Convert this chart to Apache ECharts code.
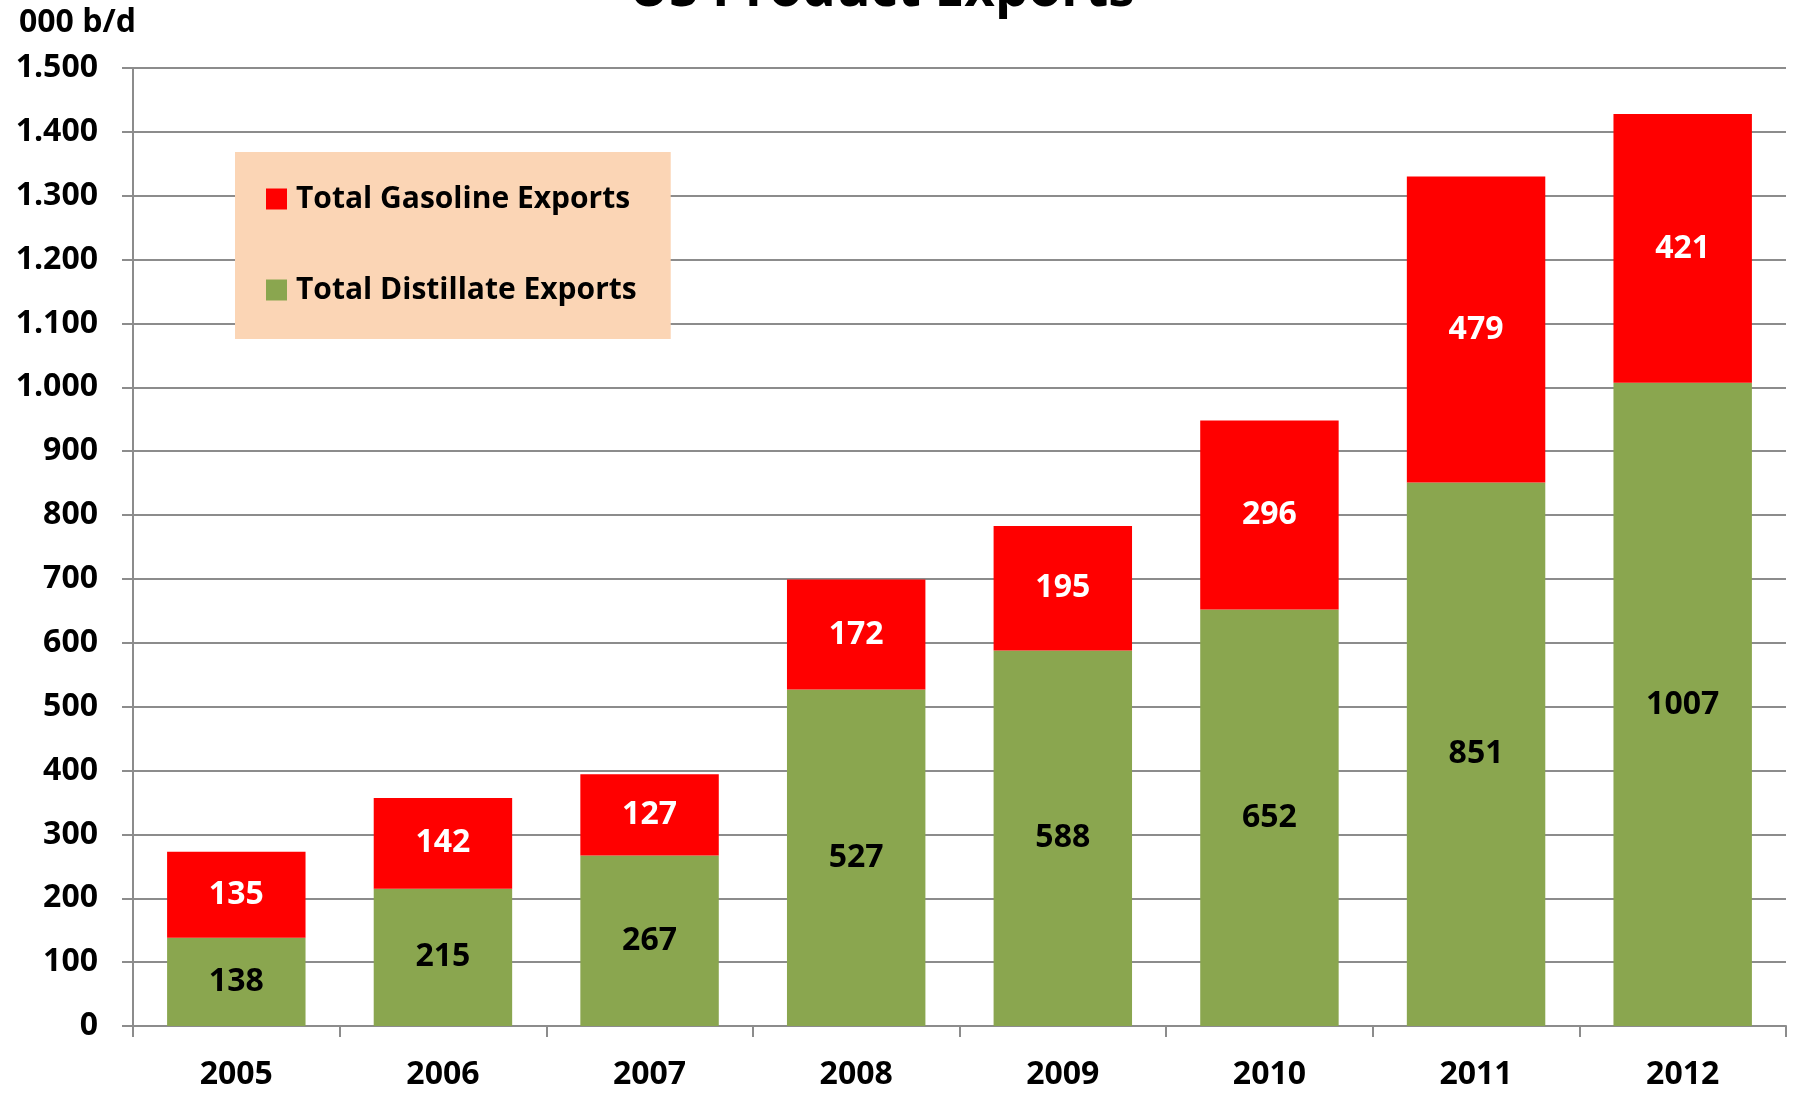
<!DOCTYPE html>
<html>
<head>
<meta charset="utf-8">
<script src="https://cdn.jsdelivr.net/npm/echarts@6/dist/echarts.min.js"></script>
<style>
  html, body { margin: 0; padding: 0; background: #fff; }
  #main { width: 1797px; height: 1095px; }
</style>
</head>
<body>
<div id="main"></div>
<script>
var years = ['2005', '2006', '2007', '2008', '2009', '2010', '2011', '2012'];
var distillate = [138, 215, 267, 527, 588, 652, 851, 1007];
var gasoline = [135, 142, 127, 172, 195, 296, 479, 421];

var FONT = '"Open Sans", "Noto Sans", sans-serif';

var chart = echarts.init(document.getElementById('main'));

var option = {
  backgroundColor: '#ffffff',
  animation: false,
  textStyle: { fontFamily: FONT },
  title: [{
    text: 'US Product Exports',
    left: 624,
    top: -41,
    textStyle: { fontSize: 53, fontWeight: 'bold', color: '#000', fontFamily: FONT }
  }, {
    text: '000 b/d',
    left: 14,
    top: 2,
    textStyle: { fontSize: 32, fontWeight: 'bold', color: '#000', fontFamily: FONT }
  }],
  legend: {
    orient: 'vertical',
    left: 235,
    top: 152,
    padding: [32, 34, 34, 31],
    itemGap: 61,
    itemWidth: 21,
    itemHeight: 21,
    backgroundColor: '#FBD5B5',
    icon: 'rect',
    data: ['Total Gasoline Exports', 'Total Distillate Exports'],
    textStyle: { fontSize: 30, fontWeight: 'bold', color: '#000', fontFamily: FONT, padding: [0, 0, 0, 4] }
  },
  grid: {
    left: 133,
    right: 11,
    top: 68,
    bottom: 69,
    containLabel: false
  },
  xAxis: {
    type: 'category',
    data: years,
    boundaryGap: true,
    axisLine: { lineStyle: { color: '#8c8c8c', width: 2 } },
    axisTick: { show: true, length: 11, lineStyle: { color: '#8c8c8c', width: 2 } },
    axisLabel: { margin: 33, fontSize: 32, fontWeight: 'bold', color: '#000', fontFamily: FONT }
  },
  yAxis: {
    type: 'value',
    min: 0,
    max: 1500,
    interval: 100,
    axisLine: { show: true, lineStyle: { color: '#8c8c8c', width: 2 } },
    axisTick: { show: true, length: 11, lineStyle: { color: '#8c8c8c', width: 2 } },
    splitLine: { show: true, lineStyle: { color: '#8c8c8c', width: 2 } },
    axisLabel: {
      margin: 35,
      fontSize: 32,
      fontWeight: 'bold',
      color: '#000',
      fontFamily: FONT,
      formatter: function (v) {
        if (v >= 1000) {
          var rest = String(v % 1000);
          while (rest.length < 3) rest = '0' + rest;
          return Math.floor(v / 1000) + '.' + rest;
        }
        return String(v);
      }
    }
  },
  series: [{
    name: 'Total Distillate Exports',
    type: 'bar',
    stack: 'total',
    barCategoryGap: '33%',
    data: distillate,
    itemStyle: { color: '#8AA64F' },
    label: {
      show: true,
      position: 'inside',
      fontSize: 32,
      fontWeight: 'bold',
      color: '#000',
      fontFamily: FONT
    }
  }, {
    name: 'Total Gasoline Exports',
    type: 'bar',
    stack: 'total',
    barCategoryGap: '33%',
    data: gasoline,
    itemStyle: { color: '#FF0000' },
    label: {
      show: true,
      position: 'inside',
      fontSize: 32,
      fontWeight: 'bold',
      color: '#fff',
      fontFamily: FONT
    }
  }]
};

chart.setOption(option);
</script>
</body>
</html>
